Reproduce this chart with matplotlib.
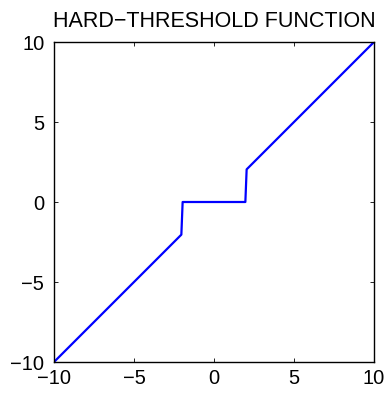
import matplotlib
matplotlib.use('Agg')
import matplotlib.pyplot as plt

plt.rcParams['font.family'] = ['Liberation Sans', 'DejaVu Sans']

# breakpoints of the hard-threshold curve (threshold = 2)
x_vals = [-10, -2.04, -1.96, 1.96, 2.04, 10]
y_vals = [-10, -2.04, 0, 0, 2.04, 10]
ticks = [-10, -5, 0, 5, 10]
title = 'HARD\u2212THRESHOLD FUNCTION'

fig = plt.figure(figsize=(3.87, 3.94), dpi=100)
ax = fig.add_axes([54 / 387, 32 / 394, 320 / 387, 320 / 394])
ax.plot(x_vals, y_vals, color='#0000FF', linewidth=1.6)

ax.set_xlim(-10, 10)
ax.set_ylim(-10, 10)
ax.set_xticks(ticks)
ax.set_yticks(ticks)
ax.tick_params(direction='in', top=True, right=True, length=3, width=0.6,
               labelsize=14.5)
ax.tick_params(axis='x', pad=5)
ax.tick_params(axis='y', pad=7)
for sp in ax.spines.values():
    sp.set_linewidth(1.0)
ax.set_title(title, fontsize=15.5, pad=11)

fig.savefig('out.png', dpi=100)
